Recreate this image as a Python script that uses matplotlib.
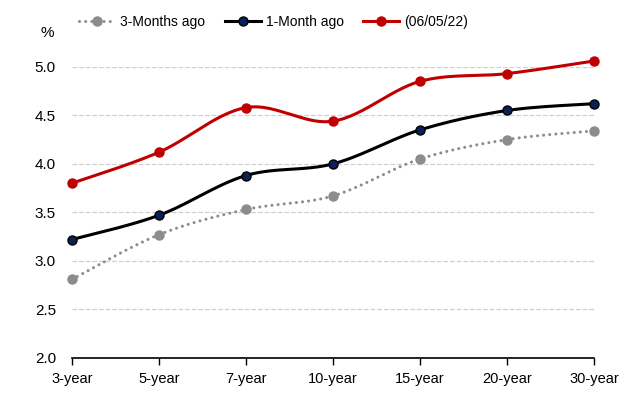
import numpy as np
import matplotlib.pyplot as plt

plt.rcParams['font.family'] = ['Liberation Sans', 'DejaVu Sans']

tenors = ['3-year', '5-year', '7-year', '10-year', '15-year', '20-year', '30-year']
three_months = [2.81, 3.27, 3.53, 3.67, 4.05, 4.25, 4.34]
one_month = [3.22, 3.47, 3.88, 4.00, 4.35, 4.55, 4.62]
current = [3.80, 4.12, 4.58, 4.44, 4.85, 4.93, 5.06]


def smooth(x, y, n=30):
    # Excel-style smoothed line: cubic Bezier through points (Catmull-Rom tangents)
    x = np.asarray(x, float)
    y = np.asarray(y, float)
    px, py = [], []
    for i in range(len(x) - 1):
        x0, y0 = (x[i - 1], y[i - 1]) if i > 0 else (x[i], y[i])
        x3, y3 = (x[i + 2], y[i + 2]) if i + 2 < len(x) else (x[i + 1], y[i + 1])
        x1, y1, x2, y2 = x[i], y[i], x[i + 1], y[i + 1]
        c1x, c1y = x1 + (x2 - x0) / 6, y1 + (y2 - y0) / 6
        c2x, c2y = x2 - (x3 - x1) / 6, y2 - (y3 - y1) / 6
        t = np.linspace(0, 1, n)
        bx = (1-t)**3*x1 + 3*(1-t)**2*t*c1x + 3*(1-t)*t**2*c2x + t**3*x2
        by = (1-t)**3*y1 + 3*(1-t)**2*t*c1y + 3*(1-t)*t**2*c2y + t**3*y2
        px.extend(bx)
        py.extend(by)
    return np.array(px), np.array(py)


fig = plt.figure(figsize=(6.36, 3.94), dpi=100)
ax = fig.add_axes([0.113, 0.0914, 0.821, 0.739])
x = np.arange(len(tenors))

dots = (0, (0.01, 2.0))
series = [
    (three_months, '3-Months ago', '#8c8c8c', '#8c8c8c', '#8c8c8c', dots),
    (one_month, '1-Month ago', '#000000', '#0a2156', '#000000', '-'),
    (current, '(06/05/22)', '#c00000', '#c00000', '#c00000', '-'),
]
handles = []
for vals, lab, col, mfc, mec, ls in series:
    sx, sy = smooth(x, vals)
    ax.plot(sx, sy, color=col, lw=2.2, ls=ls, clip_on=False, zorder=3,
            dash_capstyle='round', solid_capstyle='round')
    ax.plot(x, vals, 'o', ms=6.5, mfc=mfc, mec=mec, mew=1.0, clip_on=False, zorder=4)
    h, = ax.plot([], [], color=col, lw=2.2, ls=ls, marker='o', ms=6.5,
                 mfc=mfc, mec=mec, mew=1.0, dash_capstyle='round')
    handles.append(h)

ax.set_xlim(0, len(tenors) - 1)
ax.set_ylim(2.0, 5.0)
ax.set_yticks(np.arange(2.0, 5.01, 0.5))
ax.set_yticklabels([f'{v:.1f}' for v in np.arange(2.0, 5.01, 0.5)])
ax.set_xticks(x)
ax.set_xticklabels(tenors)
ax.tick_params(axis='y', length=0, labelsize=11, pad=11.5)
ax.tick_params(axis='x', length=5, width=1, direction='out', labelsize=10.5, pad=5)
for s in ['left', 'right', 'top']:
    ax.spines[s].set_visible(False)
ax.spines['bottom'].set_linewidth(1.2)
ax.yaxis.grid(True, ls='--', color='#d0d0d0', lw=0.9)
ax.set_axisbelow(True)

fig.text(0.075, 0.915, '%', fontsize=11, ha='center', va='center')
fig.legend(handles=handles, labels=[s[1] for s in series], loc='center',
           bbox_to_anchor=(0.43, 0.945), ncol=3, frameon=False, fontsize=10,
           handlelength=2.6, columnspacing=1.4, handletextpad=0.35)

fig.savefig('out.png', dpi=100)
